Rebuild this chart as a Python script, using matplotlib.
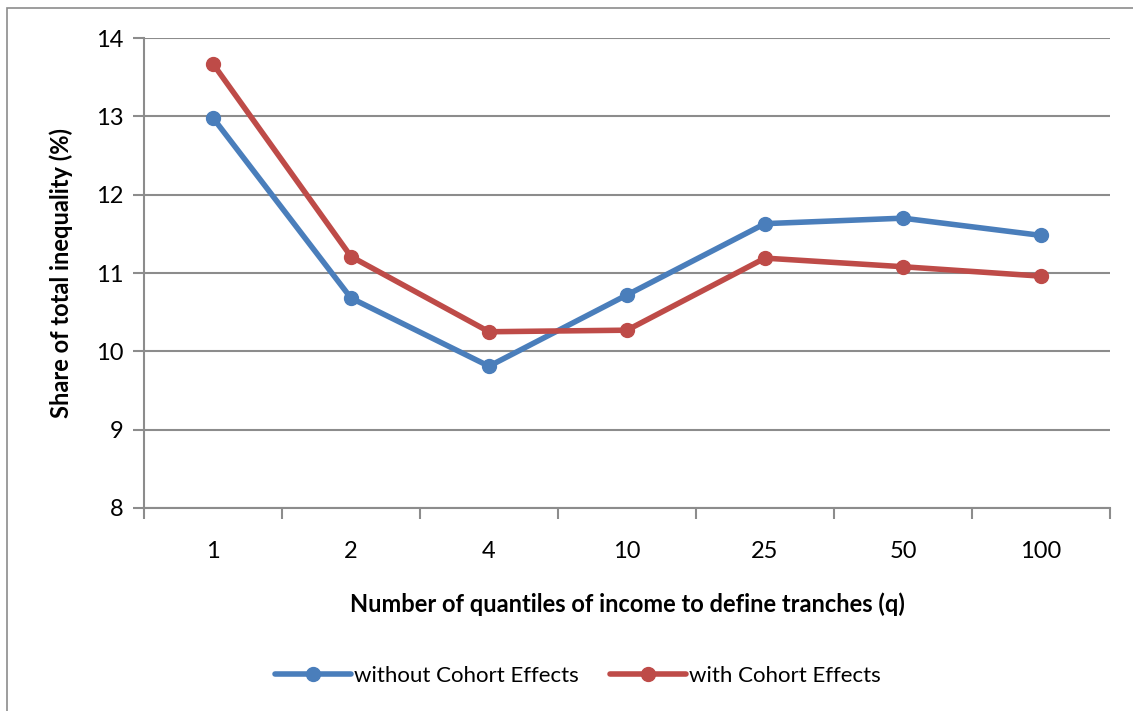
import numpy as np
import matplotlib.pyplot as plt
from matplotlib.patches import Rectangle

quantiles = ["1", "2", "4", "10", "25", "50", "100"]
without_cohort = [12.98, 10.68, 9.81, 10.72, 11.63, 11.70, 11.48]
with_cohort = [13.67, 11.21, 10.25, 10.27, 11.19, 11.08, 10.96]

BLUE = "#4a7ebb"
RED = "#be4b48"
GRID = "#8c8c8c"

plt.rcParams['font.family'] = ['Lato', 'DejaVu Sans']

fig = plt.figure(figsize=(11.33, 7.11), dpi=100)
# chart border
fig.patches.append(Rectangle((7 / 1133, -0.01), 1.1, 1 - 8 / 711 + 0.01,
                             transform=fig.transFigure, fill=False,
                             edgecolor="#8c8c8c", linewidth=1.2))

ax = fig.add_axes([144 / 1133, 1 - 508 / 711, (1110 - 144) / 1133, (508 - 38) / 711])
x = np.arange(len(quantiles))
ax.plot(x, without_cohort, color=BLUE, lw=4, marker="o", ms=10,
        label="without Cohort Effects", solid_capstyle="round")
ax.plot(x, with_cohort, color=RED, lw=4, marker="o", ms=10,
        label="with Cohort Effects", solid_capstyle="round")

ax.set_xlim(-0.5, len(quantiles) - 0.5)
ax.set_ylim(8, 14)
ax.set_yticks(range(8, 15))
ax.yaxis.grid(True, color=GRID, lw=1.5)
ax.set_axisbelow(True)
ax.set_xticks(x)
ax.set_xticklabels(quantiles)
ax.set_xticks(np.arange(-0.5, len(quantiles)), minor=True)
ax.tick_params(axis="x", which="major", length=0, pad=24, labelsize=17)
ax.tick_params(axis="x", which="minor", length=8, color=GRID, width=1.5, direction="out")
ax.tick_params(axis="y", length=8, color=GRID, width=1.5, labelsize=17, pad=7)
for side in ("top", "right"):
    ax.spines[side].set_visible(False)
for side in ("left", "bottom"):
    ax.spines[side].set_color(GRID)
    ax.spines[side].set_linewidth(1.5)

ax.set_ylabel("Share of total inequality (%)", fontsize=17, fontweight="bold", labelpad=16)
ax.set_xlabel("Number of quantiles of income to define tranches (q)", fontsize=17,
              fontweight="bold", labelpad=22)

fig.legend(loc="center", bbox_to_anchor=(578 / 1133, 1 - 676 / 711), ncol=2,
           frameon=False, fontsize=16, handlelength=3.4, columnspacing=1.4,
           handletextpad=0.15)

fig.savefig("out.png", dpi=100)
